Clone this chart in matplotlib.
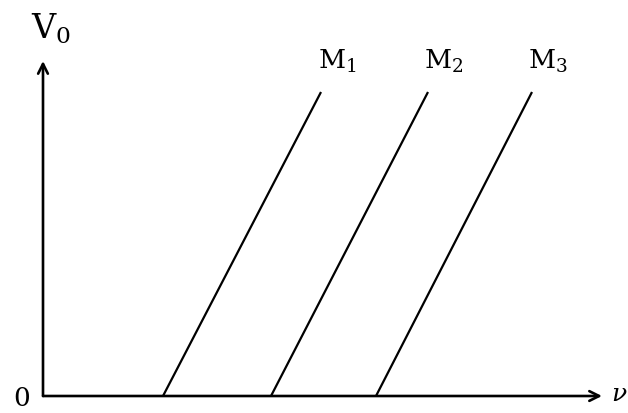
import matplotlib
matplotlib.use("Agg")
import matplotlib.pyplot as plt

# photoelectric stopping potential V0 vs frequency for three metals
metals = ["M$_1$", "M$_2$", "M$_3$"]
nu_threshold = [1.20, 2.28, 3.33]   # where each line meets the nu axis
nu_end = [2.78, 3.85, 4.89]         # frequency at top of each line
v_end = [3.04, 3.04, 3.04]          # V0 at top of each line

plt.rcParams["mathtext.fontset"] = "dejavuserif"
plt.rcParams["font.family"] = "DejaVu Serif"

fig = plt.figure(figsize=(6.28, 4.14), dpi=100)
# origin of the axes sits at pixel (43, 397)
ax = fig.add_axes([43 / 628, 17 / 414, 585 / 628, 397 / 414])
ax.set_xlim(0, 5.85)
ax.set_ylim(0, 3.97)
ax.axis("off")

for lab, x0, x1, y1 in zip(metals, nu_threshold, nu_end, v_end):
    ax.plot([x0, x1], [0, y1], color="black", lw=1.6, solid_capstyle="butt")
    ax.text(x1 + 0.16, y1 + 0.18, lab, fontsize=19, ha="center", va="bottom")

arrow = dict(arrowstyle="->,head_length=0.7,head_width=0.35", color="black", lw=1.9,
             shrinkA=0, shrinkB=0)
ax.annotate("", xy=(5.59, 0), xytext=(0, 0), arrowprops=arrow, annotation_clip=False)
ax.annotate("", xy=(0, 3.35), xytext=(0, 0), arrowprops=arrow, annotation_clip=False)

ax.text(0.08, 3.68, "V$_0$", fontsize=24, ha="center", va="center", clip_on=False)
ax.text(-0.21, -0.02, "0", fontsize=19, ha="center", va="center", clip_on=False)
ax.text(5.68, 0.02, r"$\nu$", fontsize=18, ha="left", va="center", clip_on=False)

fig.savefig("out.png", dpi=100)
